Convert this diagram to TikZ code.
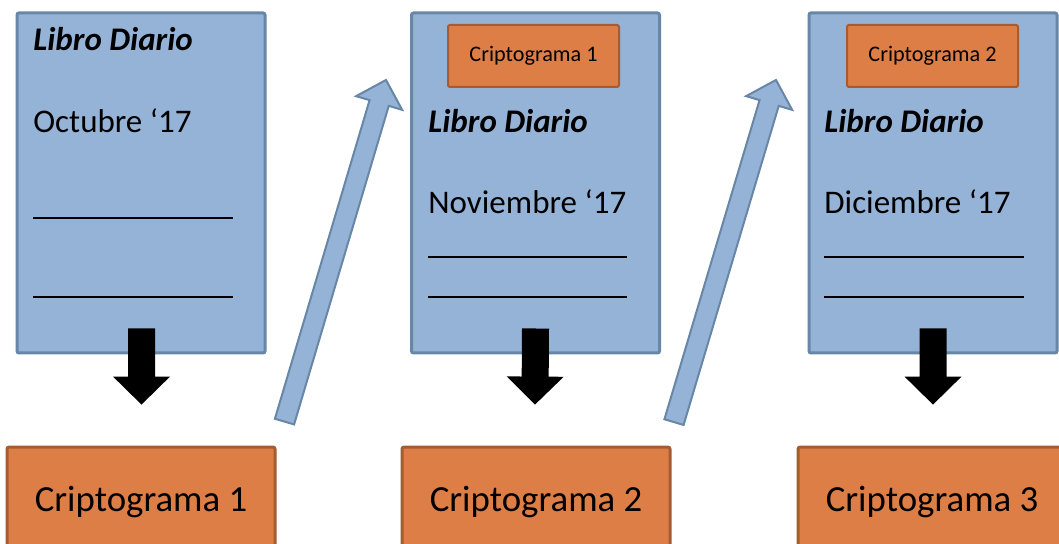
\documentclass[tikz,border=0pt]{standalone}
\usepackage{fontspec}
\setmainfont{Carlito}
\usepackage{xcolor}
\usetikzlibrary{calc}

\definecolor{diariofill}{HTML}{95B3D7}
\definecolor{diarioline}{HTML}{6886A5}
\definecolor{criptofill}{HTML}{DD7E46}
\definecolor{criptoline}{HTML}{A65B30}

% #1 style, #2 tail, #3 tip, #4 half shaft, #5 half head, #6 head length
\newcommand{\blockarrow}[6]{%
  \coordinate (hb) at ($(#3)!#6!(#2)$);
  \filldraw[#1] ($(#2)!#4!90:(#3)$) -- ($(hb)!#4!90:(#3)$) -- ($(hb)!#5!90:(#3)$) -- (#3)
    -- ($(hb)!#5!-90:(#3)$) -- ($(hb)!#4!-90:(#3)$) -- ($(#2)!#4!-90:(#3)$) -- cycle;}

\begin{document}
\begin{tikzpicture}[x=0.5pt,y=-0.5pt,
  diario/.style={draw=diarioline, fill=diariofill, line width=1.5pt, rounded corners=1pt,
    minimum width=124pt, minimum height=170pt, inner sep=0pt},
  cripto/.style={draw=criptoline, fill=criptofill, line width=1.5pt, rounded corners=1pt,
    minimum width=134pt, minimum height=54.5pt, inner sep=0pt, font=\fontsize{18.4}{22}\selectfont},
  criptosmall/.style={draw=criptoline, fill=criptofill, line width=1pt, rounded corners=1pt,
    minimum width=85.5pt, minimum height=31pt, inner sep=0pt, font=\fontsize{11.1}{13}\selectfont},
  txt/.style={anchor=base west, inner sep=0pt, font=\fontsize{16.5}{20}\selectfont},
  titulo/.style={txt, font=\fontsize{16.5}{20}\selectfont\bfseries\itshape},
  raya/.style={line width=1.25pt},
  flecha/.style={draw=diarioline, fill=diariofill, line width=1pt},
  baja/.style={fill=black, draw=none}]
\useasboundingbox (0,0) rectangle (1059,544);
\clip (0,0) rectangle (1059,544);

\node [diario] (d1) at (141,183) {};
\node [diario] (d2) at (535.5,183) {};
\node [diario] (d3) at (933,183) {};

\node [criptosmall] (s2) at (533.5,56) {Criptograma 1};
\node [criptosmall] (s3) at (932.5,56) {Criptograma 2};

\node [titulo] (l1) at (33,51) {Libro Diario};
\node [txt] (m1) at (33,133) {Octubre `17};
\draw [raya] (33,218) -- (233,218);
\draw [raya] (33,297) -- (233,297);

\node [titulo] (l2) at (428,133) {Libro Diario};
\node [txt] (m2) at (428,214) {Noviembre `17};
\draw [raya] (428,257) -- (627,257);
\draw [raya] (428,297) -- (627,297);

\node [titulo] (l3) at (824,133) {Libro Diario};
\node [txt] (m3) at (824,214) {Diciembre `17};
\draw [raya] (824,257) -- (1024,257);
\draw [raya] (824,297) -- (1024,297);

\node [cripto] (c1) at (141,501.6) {Criptograma 1};
\node [cripto] (c2) at (536,501.6) {Criptograma 2};
\node [cripto] (c3) at (932,501.6) {Criptograma 3};

\coordinate (t1) at ($(c1.north east)+(8,-24)$);
\coordinate (p1) at ($(s2.west)+(-61,24)$);
\coordinate (t2) at ($(c2.north east)+(2.5,-23.5)$);
\coordinate (p2) at ($(s3.west)+(-70,24)$);
\blockarrow{flecha}{t1}{p1}{5pt}{12pt}{12pt}
\blockarrow{flecha}{t2}{p2}{5pt}{12pt}{12pt}

\coordinate (b1) at ($(d1.south)+(0.5,-26)$);
\coordinate (e1) at ($(c1.north)+(0.5,-41)$);
\coordinate (b2) at ($(d2.south)+(0,-26)$);
\coordinate (e2) at ($(c2.north)+(-1,-41)$);
\coordinate (b3) at ($(d3.south)+(0,-26)$);
\coordinate (e3) at ($(c3.north)+(1,-41)$);
\blockarrow{baja}{b1}{e1}{6.75pt}{14.25pt}{14pt}
\blockarrow{baja}{b2}{e2}{6.75pt}{14.25pt}{14pt}
\blockarrow{baja}{b3}{e3}{6.75pt}{14.25pt}{14pt}

\end{tikzpicture}
\end{document}
